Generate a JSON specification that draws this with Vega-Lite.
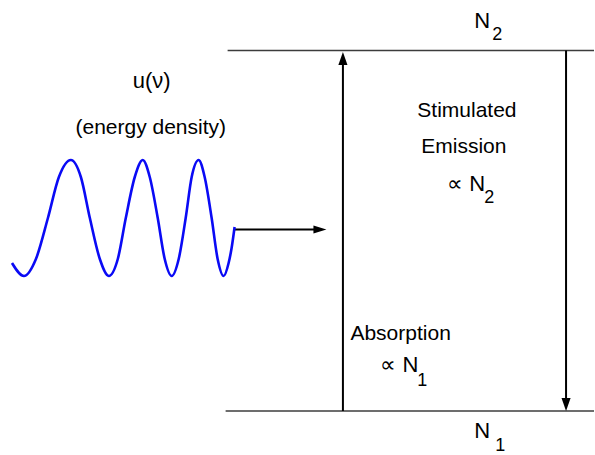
{
  "$schema": "https://vega.github.io/schema/vega-lite/v6.json",
  "autosize": {"type": "fit", "contains": "padding"},
  "width": 595,
  "height": 455,
  "padding": 0,
  "background": "white",
  "config": {"view": {"stroke": null}},
  "datasets": {
    "levels": [
      {"x": 228, "y": 50.5, "x2": 595, "y2": 50.5},
      {"x": 226, "y": 411, "x2": 595, "y2": 411}
    ],
    "arrows": [
      {"x": 343.5, "y": 411, "x2": 343.5, "y2": 60},
      {"x": 567, "y": 50.5, "x2": 567, "y2": 400},
      {"x": 235, "y": 229.5, "x2": 316, "y2": 229.5}
    ],
    "heads": [
      {"x": 343.5, "y": 58.5, "dir": "up"},
      {"x": 567, "y": 404.5, "dir": "down"},
      {"x": 320.5, "y": 229.5, "dir": "right"}
    ],
    "wave": [
      {"x": 12, "y": 263}, {"x": 24, "y": 276}, {"x": 36, "y": 259}, {"x": 48, "y": 218},
      {"x": 59, "y": 177}, {"x": 71, "y": 160}, {"x": 81, "y": 177}, {"x": 90, "y": 218},
      {"x": 100, "y": 259}, {"x": 109, "y": 276}, {"x": 118, "y": 259}, {"x": 126, "y": 218},
      {"x": 135, "y": 177}, {"x": 143, "y": 160}, {"x": 150, "y": 177}, {"x": 158, "y": 218},
      {"x": 165, "y": 259}, {"x": 172, "y": 276}, {"x": 179, "y": 259}, {"x": 186, "y": 218},
      {"x": 192, "y": 177}, {"x": 199, "y": 160}, {"x": 205, "y": 177}, {"x": 212, "y": 218},
      {"x": 218, "y": 259}, {"x": 224, "y": 276}, {"x": 229, "y": 263}, {"x": 232, "y": 248},
      {"x": 235, "y": 227}
    ],
    "labels": [
      {"x": 152, "y": 88, "text": "u(ν)", "role": "u"},
      {"x": 151, "y": 134, "text": "(energy density)", "role": "caption"},
      {"x": 475, "y": 28, "text": "N", "role": "big"},
      {"x": 493, "y": 40, "text": "2", "role": "sub"},
      {"x": 475, "y": 438, "text": "N", "role": "big"},
      {"x": 496, "y": 451, "text": "1", "role": "sub"},
      {"x": 418, "y": 117, "text": "Stimulated", "role": "label"},
      {"x": 422, "y": 153, "text": "Emission", "role": "label"},
      {"x": 448, "y": 191, "text": "∝ N", "role": "big"},
      {"x": 485, "y": 203, "text": "2", "role": "sub"},
      {"x": 351, "y": 340, "text": "Absorption", "role": "label"},
      {"x": 381, "y": 372, "text": "∝ N", "role": "big"},
      {"x": 418, "y": 386, "text": "1", "role": "sub"}
    ]
  },
  "layer": [
    {
      "data": {"name": "levels"},
      "mark": {"type": "rule", "stroke": "#3c3c3c", "strokeWidth": 1.5},
      "encoding": {
        "x": {"field": "x", "type": "quantitative", "scale": {"domain": [0, 595], "nice": false, "zero": false}, "axis": null},
        "y": {"field": "y", "type": "quantitative", "scale": {"domain": [455, 0], "nice": false, "zero": false}, "axis": null},
        "x2": {"field": "x2"},
        "y2": {"field": "y2"}
      }
    },
    {
      "data": {"name": "arrows"},
      "mark": {"type": "rule", "stroke": "black", "strokeWidth": 2},
      "encoding": {
        "x": {"field": "x", "type": "quantitative"},
        "y": {"field": "y", "type": "quantitative"},
        "x2": {"field": "x2"},
        "y2": {"field": "y2"}
      }
    },
    {
      "data": {"name": "heads"},
      "mark": {"type": "point", "filled": true, "fill": "black", "stroke": null, "opacity": 1, "size": 169},
      "encoding": {
        "x": {"field": "x", "type": "quantitative"},
        "y": {"field": "y", "type": "quantitative"},
        "shape": {
          "field": "dir", "type": "nominal", "legend": null,
          "scale": {
            "domain": ["up", "down", "right"],
            "range": ["M0,-1L0.7,1L-0.7,1Z", "M0,1L0.7,-1L-0.7,-1Z", "M1,0L-1,-0.62L-1,0.62Z"]
          }
        }
      }
    },
    {
      "data": {"name": "wave"},
      "mark": {"type": "line", "stroke": "#0a0af5", "strokeWidth": 2.6, "interpolate": "monotone"},
      "encoding": {
        "x": {"field": "x", "type": "quantitative"},
        "y": {"field": "y", "type": "quantitative"}
      }
    },
    {
      "data": {"name": "labels"},
      "transform": [{"filter": "datum.role === 'u'"}],
      "mark": {"type": "text", "font": "Liberation Sans", "baseline": "alphabetic", "align": "center", "fontSize": 22, "fill": "black"},
      "encoding": {
        "x": {"field": "x", "type": "quantitative"},
        "y": {"field": "y", "type": "quantitative"},
        "text": {"field": "text"}
      }
    },
    {
      "data": {"name": "labels"},
      "transform": [{"filter": "datum.role === 'caption'"}],
      "mark": {"type": "text", "font": "Liberation Sans", "baseline": "alphabetic", "align": "center", "fontSize": 21, "fill": "black"},
      "encoding": {
        "x": {"field": "x", "type": "quantitative"},
        "y": {"field": "y", "type": "quantitative"},
        "text": {"field": "text"}
      }
    },
    {
      "data": {"name": "labels"},
      "transform": [{"filter": "datum.role === 'label'"}],
      "mark": {"type": "text", "font": "Liberation Sans", "baseline": "alphabetic", "align": "left", "fontSize": 21, "fill": "black"},
      "encoding": {
        "x": {"field": "x", "type": "quantitative"},
        "y": {"field": "y", "type": "quantitative"},
        "text": {"field": "text"}
      }
    },
    {
      "data": {"name": "labels"},
      "transform": [{"filter": "datum.role === 'big'"}],
      "mark": {"type": "text", "font": "Liberation Sans", "baseline": "alphabetic", "align": "left", "fontSize": 22, "fill": "black"},
      "encoding": {
        "x": {"field": "x", "type": "quantitative"},
        "y": {"field": "y", "type": "quantitative"},
        "text": {"field": "text"}
      }
    },
    {
      "data": {"name": "labels"},
      "transform": [{"filter": "datum.role === 'sub'"}],
      "mark": {"type": "text", "font": "Liberation Sans", "baseline": "alphabetic", "align": "left", "fontSize": 18, "fill": "black"},
      "encoding": {
        "x": {"field": "x", "type": "quantitative"},
        "y": {"field": "y", "type": "quantitative"},
        "text": {"field": "text"}
      }
    }
  ]
}
